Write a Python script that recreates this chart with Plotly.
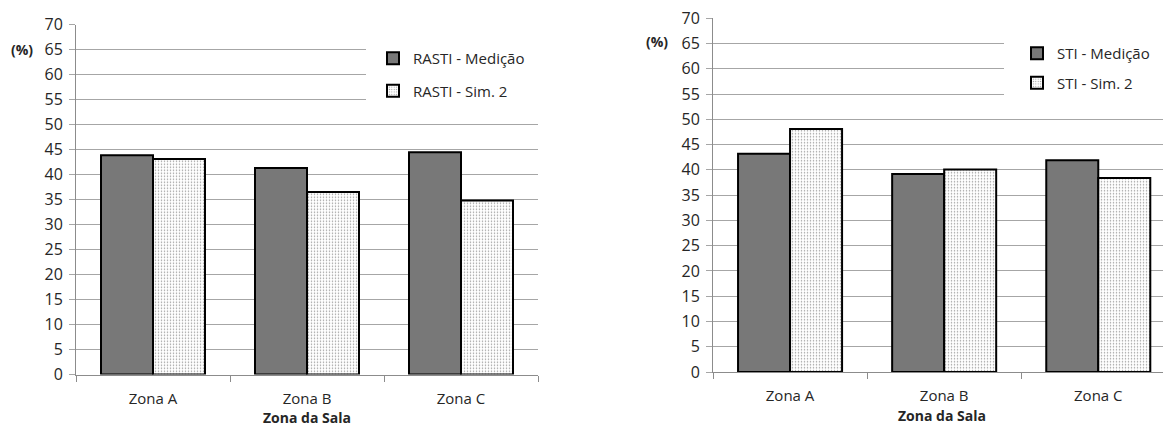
import plotly.graph_objects as go

# Room zones and measured / simulated intelligibility indices (%)
zonas = ["Zona A", "Zona B", "Zona C"]
rasti_medicao = [43.9, 41.3, 44.5]
rasti_sim2 = [43.1, 36.5, 34.8]
sti_medicao = [43.2, 39.2, 41.9]
sti_sim2 = [48.1, 40.1, 38.4]

y_ticks = list(range(0, 75, 5))

W, H = 1163, 428
FONT = "Open Sans"
TXT = "#262626"


def px_x(v):
    return v / W


def px_y(v):
    return 1 - v / H


dark_pattern = dict(shape=".", bgcolor="#949494", fgcolor="#555555",
                    size=2, solidity=0.5, fillmode="replace")
light_pattern = dict(shape=".", bgcolor="#ffffff", fgcolor="#9a9a9a",
                     size=3, solidity=0.2, fillmode="replace")
outline = dict(color="#000000", width=2)

fig = go.Figure()

fig.add_trace(go.Bar(x=zonas, y=rasti_medicao, name="RASTI - Medição",
                     marker=dict(color="#858585", pattern=dark_pattern, line=outline),
                     xaxis="x", yaxis="y", legend="legend", legendgroup="a"))
fig.add_trace(go.Bar(x=zonas, y=rasti_sim2, name="RASTI - Sim. 2",
                     marker=dict(color="#ffffff", pattern=light_pattern, line=outline),
                     xaxis="x", yaxis="y", legend="legend", legendgroup="b"))
fig.add_trace(go.Bar(x=zonas, y=sti_medicao, name="STI - Medição",
                     marker=dict(color="#858585", pattern=dark_pattern, line=outline),
                     xaxis="x2", yaxis="y2", legend="legend2", legendgroup="c"))
fig.add_trace(go.Bar(x=zonas, y=sti_sim2, name="STI - Sim. 2",
                     marker=dict(color="#ffffff", pattern=light_pattern, line=outline),
                     xaxis="x2", yaxis="y2", legend="legend2", legendgroup="d"))

axis_common_x = dict(
    type="category", showgrid=False, showline=True, linecolor="#8c8c8c", linewidth=1,
    ticks="outside", tickson="boundaries", ticklen=6, tickcolor="#8c8c8c",
    tickfont=dict(family=FONT, size=15, color=TXT), zeroline=False, automargin=False,
    ticklabelstandoff=10,
)
axis_common_y = dict(
    range=[0, 70], tickvals=y_ticks, showgrid=True, gridcolor="#a6a6a6", gridwidth=1,
    showline=True, linecolor="#8c8c8c", linewidth=1, ticks="outside", ticklen=6,
    tickcolor="#a6a6a6", tickfont=dict(family=FONT, size=16, color=TXT), zeroline=False,
    ticklabelstandoff=3, automargin=False,
)

title_font = dict(family=FONT, size=14, color=TXT)

fig.update_layout(
    width=W, height=H, margin=dict(l=0, r=0, t=0, b=0, autoexpand=False),
    paper_bgcolor="white", plot_bgcolor="white",
    barmode="group", bargap=0.325, bargroupgap=0,
    font=dict(family=FONT, color=TXT),
    xaxis=dict(axis_common_x, domain=[px_x(76), px_x(538)], range=[-0.5, 2.5], anchor="y"),
    yaxis=dict(axis_common_y, domain=[px_y(374.5), px_y(24.7)], anchor="x"),
    xaxis2=dict(axis_common_x, domain=[px_x(713), 1], range=[-0.5, 2.42], anchor="y2"),
    yaxis2=dict(axis_common_y, domain=[px_y(372), px_y(18.3)], anchor="x2"),
    legend=dict(x=px_x(373), y=px_y(42), xanchor="left", yanchor="top",
                bgcolor="rgba(0,0,0,0)", traceorder="grouped", tracegroupgap=10,
                font=dict(family=FONT, size=15, color=TXT)),
    legend2=dict(x=px_x(1017), y=px_y(37), xanchor="left", yanchor="top",
                 bgcolor="rgba(0,0,0,0)", traceorder="grouped", tracegroupgap=7,
                 font=dict(family=FONT, size=15, color=TXT)),
    shapes=[
        dict(type="rect", xref="paper", yref="paper", layer="above",
             x0=px_x(366), x1=px_x(540), y0=px_y(110), y1=px_y(15),
             fillcolor="white", line=dict(width=0)),
        dict(type="rect", xref="paper", yref="paper", layer="above",
             x0=px_x(1004), x1=1, y0=px_y(105), y1=px_y(10),
             fillcolor="white", line=dict(width=0)),
    ],
    annotations=[
        dict(text="<b>(%)</b>", xref="paper", yref="paper", x=px_x(22), y=px_y(49),
             xanchor="center", yanchor="middle", showarrow=False, font=title_font),
        dict(text="<b>(%)</b>", xref="paper", yref="paper", x=px_x(657), y=px_y(42),
             xanchor="center", yanchor="middle", showarrow=False, font=title_font),
        dict(text="<b>Zona da Sala</b>", xref="paper", yref="paper", x=px_x(307),
             y=0, xanchor="center", yanchor="bottom", borderpad=0, showarrow=False,
             font=title_font),
        dict(text="<b>Zona da Sala</b>", xref="paper", yref="paper", x=px_x(942),
             y=px_y(426), xanchor="center", yanchor="bottom", borderpad=0, showarrow=False,
             font=title_font),
    ],
)

fig.write_html("out.html")
